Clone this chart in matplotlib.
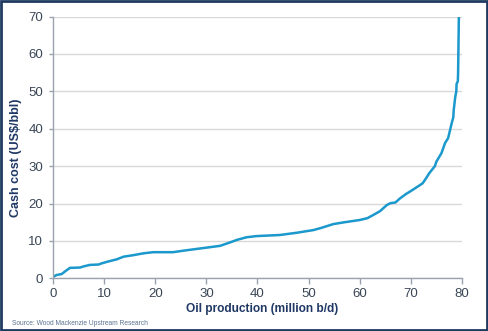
import matplotlib
matplotlib.use("Agg")
import matplotlib.pyplot as plt
from matplotlib.patches import Rectangle

plt.rcParams['font.family'] = ['Liberation Sans', 'DejaVu Sans']

# Cumulative oil production (million b/d) vs. cash cost (US$/bbl)
production = [0.0, 0.7, 1.7, 2.3, 3.0, 3.3, 5.3, 6.0, 7.2, 8.9, 9.5, 10.5, 12.5, 13.8,
              15.7, 17.7, 19.6, 23.5, 25.5, 28.8, 30.5, 32.7, 34.6, 36.0, 37.9,
              39.8, 44.4, 47.7, 50.9, 52.5, 54.8, 57.0, 60.0, 61.5, 62.6, 64.0,
              65.3, 66.0, 67.0, 67.9, 69.0, 70.4, 72.3, 73.0, 73.6, 74.7, 75.0,
              76.0, 76.7, 77.3, 78.0, 78.3, 78.4, 78.7, 78.9, 78.95, 79.2, 79.25,
              79.3, 79.35, 79.4]
cash_cost = [0.4, 0.9, 1.15, 1.8, 2.5, 2.8, 2.9, 3.2, 3.6, 3.7, 4.0, 4.4, 5.1, 5.8,
             6.2, 6.7, 7.0, 7.0, 7.4, 8.0, 8.3, 8.7, 9.6, 10.3, 11.0,
             11.3, 11.6, 12.2, 12.9, 13.5, 14.5, 15.0, 15.6, 16.1, 16.9, 18.0,
             19.6, 20.1, 20.3, 21.4, 22.5, 23.7, 25.4, 26.8, 28.1, 30.0, 31.2,
             33.5, 36.2, 37.5, 41.5, 43.0, 45.1, 48.6, 50.0, 52.0, 52.7, 55.0,
             60.0, 65.0, 70.0]

x_ticks = [0, 10, 20, 30, 40, 50, 60, 70, 80]
y_ticks = [0, 10, 20, 30, 40, 50, 60, 70]

navy = '#1f3864'
tick_color = '#3a4656'
line_color = '#1b98cc'

fig = plt.figure(figsize=(4.88, 3.31), dpi=100)
ax = fig.add_axes([0.1086, 0.159, 0.838, 0.791])

ax.plot(production, cash_cost, color=line_color, linewidth=1.8)

ax.set_xlim(0, 80)
ax.set_ylim(0, 70)
ax.set_xticks(x_ticks)
ax.set_yticks(y_ticks)

ax.grid(axis='y', color='#d9d9d9', linewidth=1.0)
ax.set_axisbelow(True)
for side in ('top', 'right'):
    ax.spines[side].set_visible(False)
for side in ('left', 'bottom'):
    ax.spines[side].set_color('#9aa3ad')
    ax.spines[side].set_linewidth(1.0)

ax.tick_params(axis='x', direction='out', length=4, width=1, color='#9aa3ad',
               labelsize=9.5, labelcolor=tick_color, pad=3)
ax.tick_params(axis='y', direction='out', length=3, width=1, color='#9aa3ad',
               labelsize=9.5, labelcolor=tick_color, pad=4)

ax.set_xlabel('Oil production (million b/d)', fontsize=8.6, fontweight='bold',
              color=navy, labelpad=5)
ax.xaxis.set_label_coords(0.512, -0.095)
ax.set_ylabel('Cash cost (US$/bbl)', fontsize=9, fontweight='bold', color=navy)
ax.yaxis.set_label_coords(-0.076, 0.46)

fig.text(0.025, 0.024, 'Source: Wood Mackenzie Upstream Research', fontsize=4.8,
         color='#5a7390', ha='left', va='center')

# Outer border around the figure
fig.patches.append(Rectangle((0.002, 0.003), 0.996, 0.994, transform=fig.transFigure,
                             fill=False, edgecolor='#1f3a60', linewidth=2.0))

fig.savefig('out.png', dpi=100)
